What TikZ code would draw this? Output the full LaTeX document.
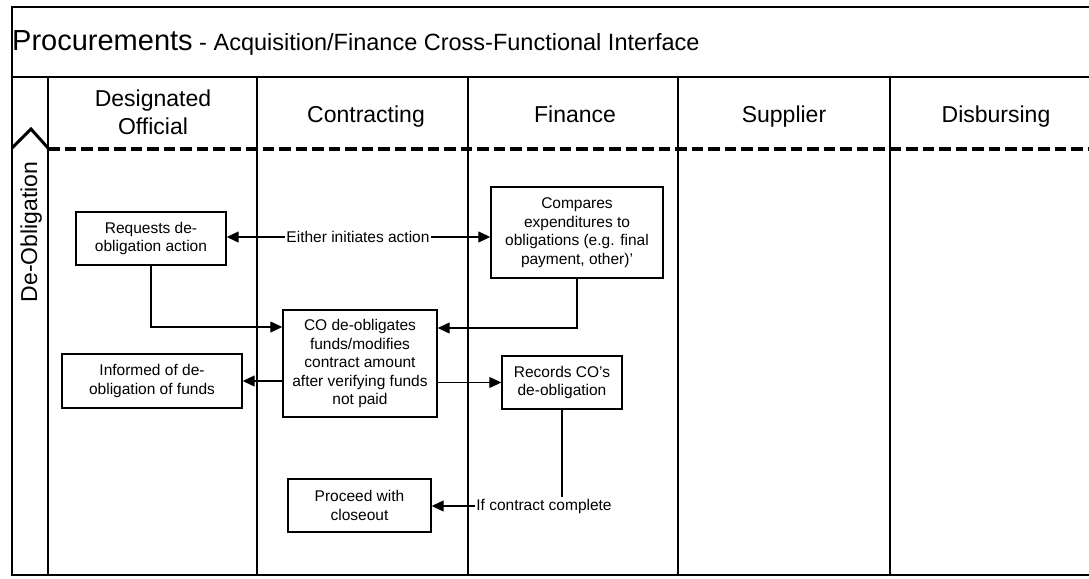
\documentclass[tikz,border=0pt]{standalone}
\usepackage{fontspec}
\setmainfont{Liberation Sans}
\usetikzlibrary{arrows.meta}
\newcommand{\bxfont}{\fontsize{15.5}{18.5}\selectfont}
\newcommand{\hdfont}{\fontsize{23}{28}\selectfont}
\newcommand{\sq}{{\char"0027}}
\begin{document}
\begin{tikzpicture}[x=1pt,y=-1pt,
  lane/.style={line width=1.3pt},
  frameline/.style={line width=2pt},
  box/.style={draw, line width=1.4pt, align=center, inner sep=0pt, font=\bxfont},
  lbl/.style={font=\bxfont, inner sep=1.5pt},
  hdr/.style={font=\hdfont, anchor=base, align=center, inner sep=0pt},
  arr/.style={line width=1.2pt, -{Triangle[length=12pt,width=11pt]}},
  conn/.style={line width=1.2pt}]
\useasboundingbox (0,0) rectangle (1089,578);
\fill[white] (0,0) rectangle (1089,578);
% frame
\draw[frameline] (1089,7) -- (12,7) -- (12,575) -- (1089,575);
\draw[frameline] (12,77) -- (1089,77);
% title
\node[anchor=base west, inner sep=0pt] (title) at (12,51)
  {\fontsize{29}{34}\selectfont Procurements\fontsize{23.5}{28}\selectfont{} - Acquisition/Finance Cross-Functional Interface};
% lane separators
\foreach \x in {48,257,468,678,890} {
  \draw[lane] (\x,77) -- (\x,575);
}
% chevron and dashed line
\draw[line width=3pt, line join=miter] (12,148) -- (31,129) -- (48,148);
\draw[line width=3.4pt, dash pattern=on 11.5pt off 5pt] (48,149) -- (1089,149);
% headers
\node[hdr] (h1) at (153,106) {Designated};
\node[hdr] (h1b) at (153,134) {Official};
\node[hdr] (h2) at (366,122) {Contracting};
\node[hdr] (h3) at (575,122) {Finance};
\node[hdr] (h4) at (784,122) {Supplier};
\node[hdr] (h5) at (996,122) {Disbursing};
% lane label
\node[font=\hdfont, rotate=90, anchor=base, inner sep=0pt] (lane) at (37,232) {De-Obligation};
% boxes
\node[box, minimum width=150pt, minimum height=53pt] (req) at (151,238.5) {Requests de-\\obligation action};
\node[box, minimum width=172pt, minimum height=91pt] (cmp) at (577,232.5) {Compares\\expenditures to\\obligations (e.g. final\\payment, other)\sq};
\node[box, minimum width=154pt, minimum height=107pt] (co) at (360,363.5) {CO de-obligates\\funds/modifies\\contract amount\\after verifying funds\\not paid};
\node[box, minimum width=180pt, minimum height=54pt] (inf) at (152,381) {Informed of de-\\obligation of funds};
\node[box, minimum width=120pt, minimum height=53pt] (rec) at (562,382.5) {Records CO\sq s\\de-obligation};
\node[box, minimum width=143pt, minimum height=53pt] (pro) at (359.5,505.5) {Proceed with\\closeout};
% labels
\node[lbl] (eit) at (358,237) {Either initiates action};
\node[lbl] (ifc) at (544,506) {If contract complete};
% connectors
\draw[arr] (eit.west) -- (eit.west -| req.east);
\draw[arr] (eit.east) -- (eit.east -| cmp.west);
\draw[arr] (req.south) |- ([yshift=36.5pt]co.west);
\draw[arr] (cmp.south) |- ([yshift=35.5pt]co.east);
\draw[arr] (co.west |- inf.east) -- (inf.east);
\draw[arr] (co.east |- rec.west) -- (rec.west);
\draw[conn] (rec.south) -- (rec.south |- ifc.north);
\draw[arr] (ifc.west) -- (ifc.west -| pro.east);
\end{tikzpicture}
\end{document}
